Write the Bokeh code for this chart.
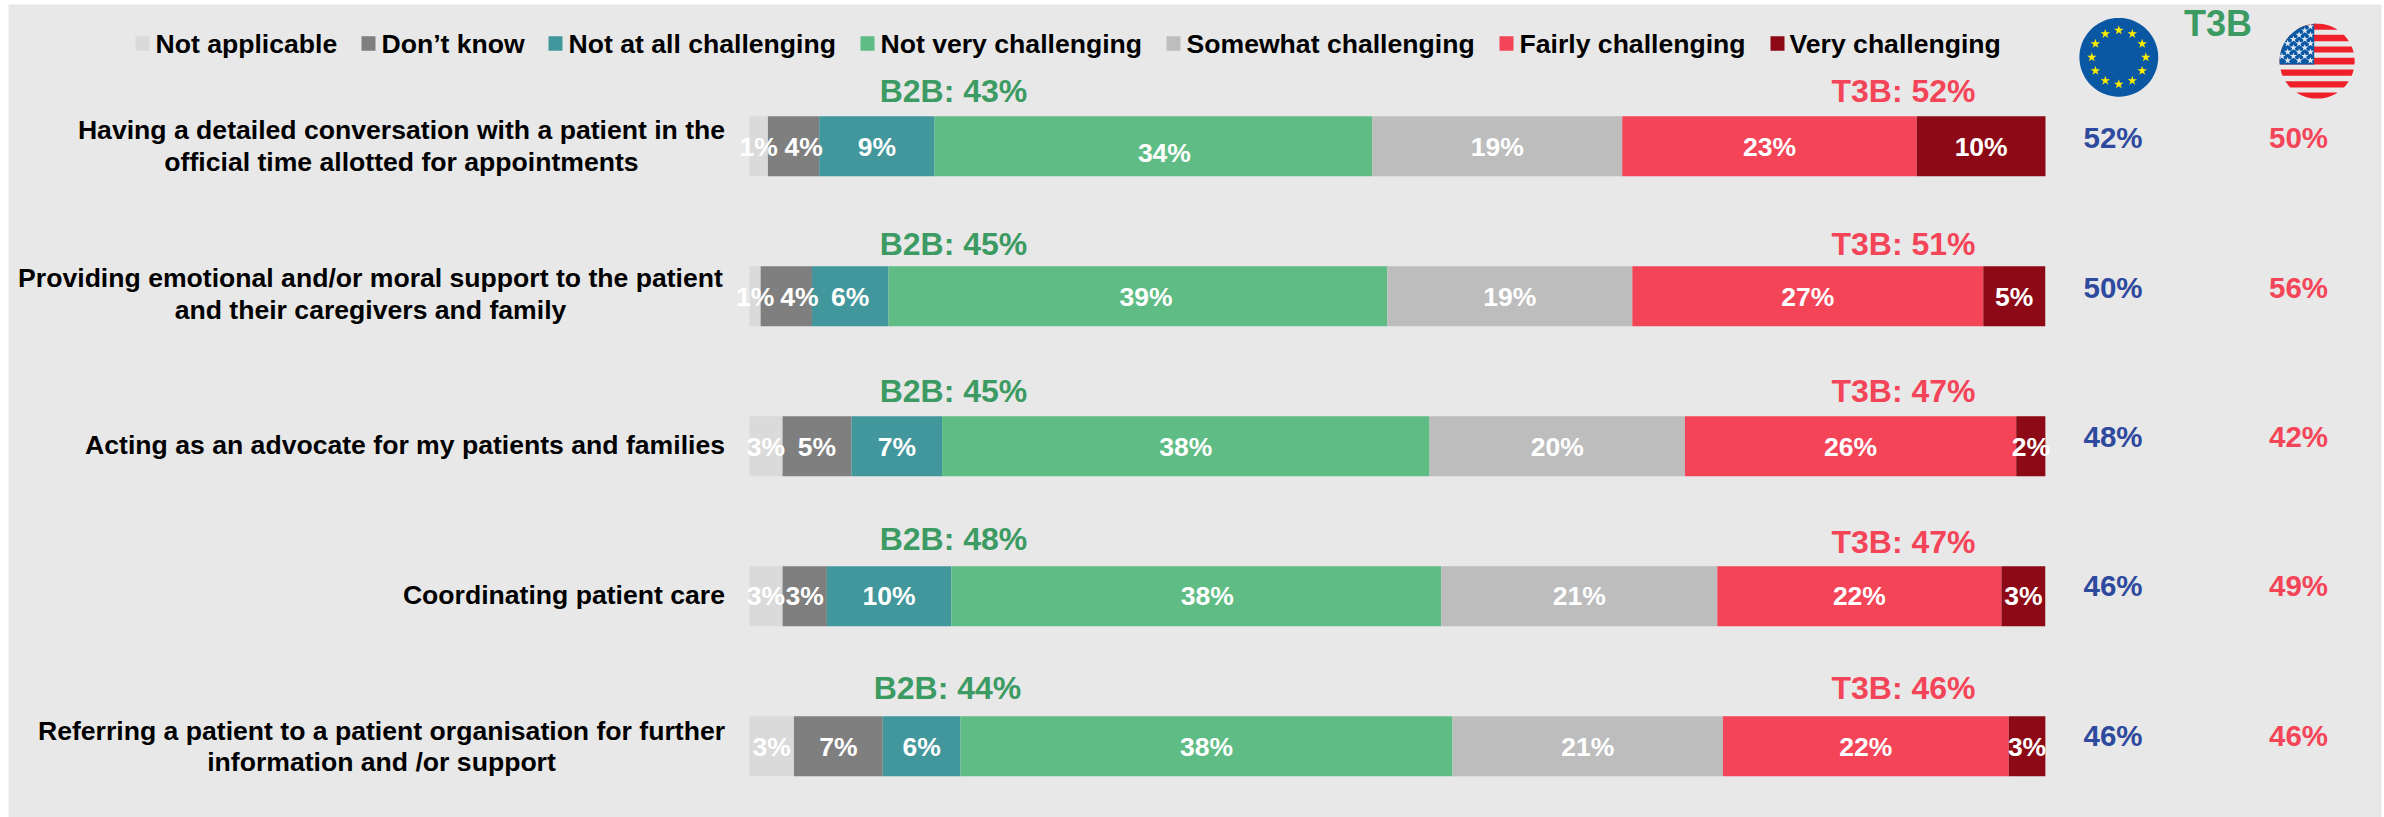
import math
from bokeh.plotting import figure
from bokeh.models import Range1d
from bokeh.core.properties import value
from bokeh.embed import file_html
from bokeh.resources import INLINE

series = ["Not applicable", "Don\u2019t know", "Not at all challenging", "Not very challenging",
          "Somewhat challenging", "Fairly challenging", "Very challenging"]
colors = ["#DADADA", "#7F7F7F", "#41979B", "#5FBC84", "#BDBDBD", "#F44558", "#8C0915"]

not_applicable = [1.42, 0.86, 2.55, 2.55, 3.43]
dont_know = [3.96, 3.96, 5.32, 3.42, 6.85]
not_at_all = [8.90, 5.91, 6.99, 9.61, 6.00]
not_very = [33.77, 38.49, 37.61, 37.80, 37.96]
somewhat = [19.29, 18.90, 19.71, 21.30, 20.87]
fairly = [22.73, 27.08, 25.56, 21.92, 22.05]
very = [9.93, 4.78, 2.25, 3.38, 2.83]
values = [not_applicable, dont_know, not_at_all, not_very, somewhat, fairly, very]

labels_not_applicable = ["1%", "1%", "3%", "3%", "3%"]
labels_dont_know = ["4%", "4%", "5%", "3%", "7%"]
labels_not_at_all = ["9%", "6%", "7%", "10%", "6%"]
labels_not_very = ["34%", "39%", "38%", "38%", "38%"]
labels_somewhat = ["19%", "19%", "20%", "21%", "21%"]
labels_fairly = ["23%", "27%", "26%", "22%", "22%"]
labels_very = ["10%", "5%", "2%", "3%", "3%"]
seg_labels = [labels_not_applicable, labels_dont_know, labels_not_at_all, labels_not_very,
              labels_somewhat, labels_fairly, labels_very]

b2b = ["B2B: 43%", "B2B: 45%", "B2B: 45%", "B2B: 48%", "B2B: 44%"]
t3b = ["T3B: 52%", "T3B: 51%", "T3B: 47%", "T3B: 47%", "T3B: 46%"]
eu = ["52%", "50%", "48%", "46%", "46%"]
us = ["50%", "56%", "42%", "49%", "46%"]
categories = [
    ["Having a detailed conversation with a patient in the", "official time allotted for appointments"],
    ["Providing emotional and/or moral support to the patient", "and their caregivers and family"],
    ["Acting as an advocate for my patients and families"],
    ["Coordinating patient care"],
    ["Referring a patient to a patient organisation for further", "information and /or support"],
]

W, H = 2384, 817
PAD_L, PAD_R, PAD_T = 8, 3, 4
LEFT, RIGHT = 749.0, 2045.0
U = (RIGHT - LEFT) / 100.0
CY, STEP = 145.7, 150.0


def X(px):
    return (px - LEFT) / U


def Y(py):
    return (py - CY) / STEP


p = figure(width=W, height=H, output_backend="svg", toolbar_location=None,
           x_range=Range1d(X(PAD_L), X(W - PAD_R)), y_range=Range1d(Y(H), Y(PAD_T)),
           background_fill_color="#E8E8E8", border_fill_color="#FFFFFF",
           min_border_left=PAD_L, min_border_right=PAD_R, min_border_top=PAD_T, min_border_bottom=0,
           outline_line_color=None)
p.axis.visible = False
p.grid.visible = False

FONT = value("Liberation Sans")


def put(xs, ys, texts, size, color, align="center"):
    p.text(x=xs, y=ys, text=texts, text_font=FONT, text_font_style="bold",
           text_font_size=f"{size}px", text_color=color, text_align=align, text_baseline="middle")


# stacked bars
rows = list(range(5))
left = [0.0] * 5
nudges = {(0, 1): 10, (0, 3): 11, (1, 1): 13, (1, 3): 8, (3, 3): 11}
label_rows = {0: 146.0, 1: 296.0, 2: 446.0, 3: 595.5, 4: 746.0}
lx, ly, lt = [], [], []
for s, vals in enumerate(values):
    right = [a + b for a, b in zip(left, vals)]
    p.hbar(y=rows, left=left, right=right, height=0.4, fill_color=colors[s], line_color=None)
    for r in rows:
        lx.append((left[r] + right[r]) / 2 + nudges.get((r, s), 0) / U)
        dy = 6 if (r, s) == (0, 3) else 0
        ly.append(Y(label_rows[r] + dy))
        lt.append(seg_labels[s][r])
    left = right
put(lx, ly, lt, 26.5, "#FFFFFF")

# legend
swatch_px = [135, 361, 548, 860, 1166, 1499, 1770]
text_px = [155, 381, 568, 880, 1186, 1519, 1789]
for s in range(7):
    p.rect(x=[X(swatch_px[s] + 7)], y=[Y(43)], width=14 / U, height=14.5 / STEP,
           fill_color=colors[s], line_color=None)
put([X(v) for v in text_px], [Y(43)] * 7, series, 26.6, "#000000", "left")

# category labels: every block is centred on itself, and its widest line ends at the same x
cat_center = [401, 370, None, None, 381]
cat_y = [[129.5, 161.5], [277.5, 309.5], [444], [594], [730.5, 761.5]]
for r, lines in enumerate(categories):
    for t, y in zip(lines, cat_y[r]):
        if cat_center[r] is None:
            put([X(724.5)], [Y(y)], [t], 26.6, "#000000", "right")
        else:
            put([X(cat_center[r])], [Y(y)], [t], 26.6, "#000000")

# box labels
GREEN, RED, BLUE = "#3C9A63", "#F44558", "#2E4A9E"
b2b_px = [953, 953, 953, 953, 947]
top_y = [90, 243, 390, 538, 687]
t3b_y = [90, 243, 390, 541, 687]
put([X(v) for v in b2b_px], [Y(v) for v in top_y], b2b, 32, GREEN)
put([X(1903)] * 5, [Y(v) for v in t3b_y], t3b, 32, RED)

val_y = [137, 287, 436, 585, 734.5]
put([X(2112.5)] * 5, [Y(v) for v in val_y], eu, 29.5, BLUE)
put([X(2298)] * 5, [Y(v) for v in val_y], us, 29.5, RED)
put([X(2217.5)], [Y(22.5)], ["T3B"], 36, GREEN)


# flags
def circle_poly(cx, cy, r, n=90):
    pts = [(cx + r * math.cos(2 * math.pi * i / n), cy + r * math.sin(2 * math.pi * i / n)) for i in range(n)]
    return [X(a) for a, _ in pts], [Y(b) for _, b in pts]


def clipped(cx, cy, r, y0, y1, x0=None, x1=None):
    """Part of the disc between y0 and y1 (and optionally x0..x1), as a polygon in data units."""
    x0 = cx - r if x0 is None else x0
    x1 = cx + r if x1 is None else x1
    n = 24
    ys = [y0 + (y1 - y0) * i / n for i in range(n + 1)]
    ys = [y for y in ys if abs(y - cy) <= r]
    rgt, lft = [], []
    for y in ys:
        half = math.sqrt(max(r * r - (y - cy) ** 2, 0))
        rgt.append((min(cx + half, x1), y))
        lft.append((max(cx - half, x0), y))
    pts = rgt + lft[::-1]
    return [X(a) for a, _ in pts], [Y(b) for _, b in pts]


# EU flag
ex, ey, er = 2118.3, 56.8, 39.4
xs, ys = circle_poly(ex, ey, er)
p.patch(xs, ys, fill_color="#0A57A3", line_color=None)
p.scatter(x=[X(ex + 27 * math.sin(i * math.pi / 6)) for i in range(12)],
          y=[Y(ey - 27 * math.cos(i * math.pi / 6)) for i in range(12)],
          marker="star", size=10, fill_color="#FFED00", line_color=None)

# US flag
ux, uy, ur = 2316.6, 60.7, 37.5
stripes = [(23.3, 29.3), (34.3, 40.7), (46, 52), (57.3, 64), (69, 75.3), (80.7, 87), (92, 98)]
for a, b in stripes:
    xs, ys = clipped(ux, uy, ur, a, b)
    p.patch(xs, ys, fill_color="#EF2029", line_color=None)
xs, ys = clipped(ux, uy, ur, 23.2, 64, x1=2313.7)
p.patch(xs, ys, fill_color="#0A57A3", line_color=None)
star_x, star_y = [], []
for i in range(9):
    y = 60 - i * 4.25
    for j in range(7):
        x = 2310 - j * 11.4 - (5.7 if i % 2 else 0)
        if math.hypot(x - ux, y - uy) < ur - 2:
            star_x.append(X(x))
            star_y.append(Y(y))
p.scatter(x=star_x, y=star_y, marker="star", size=7.5, fill_color="#DCE6F0", line_color=None)

open("out.html", "w").write(file_html(p, INLINE))
